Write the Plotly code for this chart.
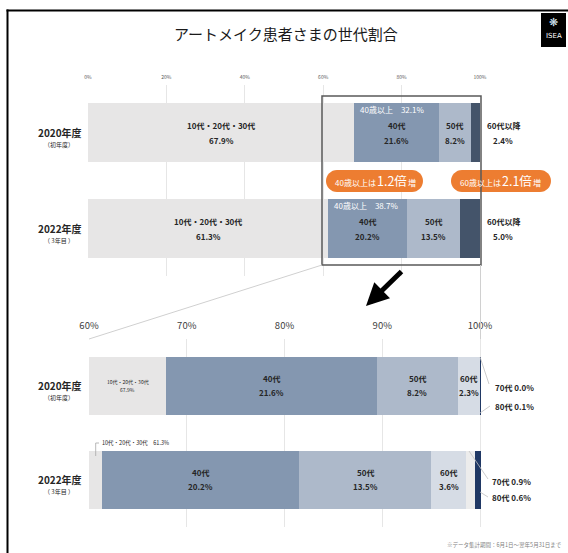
import plotly.graph_objects as go

W, H = 568, 553
FONT = "Noto Sans CJK JP"
TXT = "#262626"

# ---------------- data ----------------
years = ["2020年度", "2022年度"]
year_notes = ["（初年度）", "（ 3年目 ）"]

top_groups = ["10代・20代・30代", "40代", "50代", "60代以降"]
top_2020 = [67.9, 21.6, 8.2, 2.4]
top_2022 = [61.3, 20.2, 13.5, 5.0]
top_colors = ["#e7e6e6", "#8497b0", "#adb9ca", "#44546a"]
over40 = [32.1, 38.7]
top_ticks = [0, 20, 40, 60, 80, 100]

bot_groups = ["10代・20代・30代", "40代", "50代", "60代", "70代", "80代"]
bot_2020 = [67.9, 21.6, 8.2, 2.3, 0.0, 0.1]
bot_2022 = [61.3, 20.2, 13.5, 3.6, 0.9, 0.6]
bot_colors = ["#e7e6e6", "#8497b0", "#adb9ca", "#d6dce5", "#ececec", "#203864"]
bot_ticks = [60, 70, 80, 90, 100]

badge_small = ["40歳以上は", "60歳以上は"]
badge_big = ["1.2倍", "2.1倍"]
badge_tail = ["増", "増"]

title = "アートメイク患者さまの世代割合"
footer = "※データ集計期間：6月1日〜翌年5月31日まで"


def px(x):
    return x / W


def py(y):
    return 1 - y / H


fig = go.Figure()

for i, g in enumerate(top_groups):
    fig.add_trace(go.Bar(
        y=[0, 1], x=[top_2020[i], top_2022[i]], orientation="h",
        marker=dict(color=top_colors[i], line=dict(width=0)), width=0.62,
        name=g, xaxis="x", yaxis="y", hoverinfo="skip", showlegend=False))

for i, g in enumerate(bot_groups):
    fig.add_trace(go.Bar(
        y=[0, 1], x=[bot_2020[i], bot_2022[i]], orientation="h",
        marker=dict(color=bot_colors[i], line=dict(width=0)), width=0.62,
        name=g, xaxis="x2", yaxis="y2", hoverinfo="skip", showlegend=False))

ann = []
shapes = []
B = "bold"


def A(**kw):
    d = dict(showarrow=False, xanchor="center", yanchor="middle")
    d.update(kw)
    ann.append(d)


def cum(vals):
    out, s = [], 0
    for v in vals:
        out.append((s, s + v))
        s += v
    return out


# ---- top chart labels ----
top_rows = [top_2020, top_2022]
for r, vals in enumerate(top_rows):
    segs = cum(vals)
    for i in range(3):
        a, b = segs[i]
        c = (a + b) / 2
        A(x=c, y=r, xref="x", yref="y", text=top_groups[i], yshift=7, font=dict(size=8, color=TXT, weight=B))
        A(x=c, y=r, xref="x", yref="y", text=f"{vals[i]:.1f}%", yshift=-8, font=dict(size=8, color=TXT, weight=B))
    A(x=px(503), y=r, xref="paper", yref="y", text=top_groups[3], yshift=7, font=dict(size=8, color=TXT, weight=B))
    A(x=px(503), y=r, xref="paper", yref="y", text=f"{vals[3]:.1f}%", yshift=-8, font=dict(size=8, color=TXT, weight=B))
    A(x=segs[1][0], y=r, xref="x", yref="y", text=f"40歳以上　{over40[r]:.1f}%",
      xanchor="left", xshift=4, yshift=23, font=dict(size=8, color="white"))

# year labels (both charts)
for yref in ["y", "y2"]:
    for r in range(2):
        A(x=px(60), y=r, xref="paper", yref=yref, text=years[r], yshift=0, font=dict(size=10, color=TXT, weight=B))
        A(x=px(59), y=r, xref="paper", yref=yref, text=year_notes[r], yshift=-12, font=dict(size=6, color=TXT))

# ---- bottom chart labels ----
bot_rows = [bot_2020, bot_2022]
for r, vals in enumerate(bot_rows):
    segs = cum(vals)
    for i in range(1, 4):
        a, b = segs[i]
        c = (a + b) / 2
        A(x=c, y=r, xref="x2", yref="y2", text=bot_groups[i], yshift=7, font=dict(size=8, color=TXT, weight=B))
        A(x=c, y=r, xref="x2", yref="y2", text=f"{vals[i]:.1f}%", yshift=-7, font=dict(size=8, color=TXT, weight=B))

segs = cum(bot_2020)
c0 = (60 + segs[0][1]) / 2
A(x=c0, y=0, xref="x2", yref="y2", text=bot_groups[0], yshift=4, font=dict(size=5, color=TXT))
A(x=c0, y=0, xref="x2", yref="y2", text=f"{bot_2020[0]:.1f}%", yshift=-4, font=dict(size=5, color=TXT))
A(x=px(100), y=py(443), xref="paper", yref="paper", text=f"{bot_groups[0]}　{bot_2022[0]:.1f}%",
  xanchor="left", font=dict(size=5.5, color=TXT))
shapes.append(dict(type="path", xref="paper", yref="paper",
                   path=f"M{px(95.7)},{py(456)} L{px(95.7)},{py(443)} L{px(99)},{py(443)}",
                   line=dict(color="#a6a6a6", width=0.8)))

out_lbl = [
    [(493, 387, f"{bot_groups[4]} {bot_2020[4]:.1f}%"), (493, 406, f"{bot_groups[5]} {bot_2020[5]:.1f}%")],
    [(490, 481, f"{bot_groups[4]} {bot_2022[4]:.1f}%"), (490, 497, f"{bot_groups[5]} {bot_2022[5]:.1f}%")],
]
for row in out_lbl:
    for (x, y, t) in row:
        A(x=px(x), y=py(y), xref="paper", yref="paper", text=t, xanchor="left",
          font=dict(size=8, color=TXT, weight=B))
leaders = [((480, 357), (489, 384)), ((480, 413), (490, 406)),
           ((469, 451), (488, 479)), ((480, 492), (488, 497))]
for (a, b) in leaders:
    shapes.append(dict(type="line", xref="paper", yref="paper", x0=px(a[0]), y0=py(a[1]),
                       x1=px(b[0]), y1=py(b[1]), line=dict(color="#bfbfbf", width=0.8)))


# ---- badges ----
def pill(x0, x1, y0, y1):
    r = (y1 - y0) / 2
    k = 0.5523 * r
    cy = (y0 + y1) / 2
    p = lambda x, y: f"{px(x):.5f},{py(y):.5f}"
    d = f"M{p(x0 + r, y0)} L{p(x1 - r, y0)} "
    d += f"C{p(x1 - r + k, y0)} {p(x1, cy - k)} {p(x1, cy)} "
    d += f"C{p(x1, cy + k)} {p(x1 - r + k, y1)} {p(x1 - r, y1)} "
    d += f"L{p(x0 + r, y1)} "
    d += f"C{p(x0 + r - k, y1)} {p(x0, cy + k)} {p(x0, cy)} "
    d += f"C{p(x0, cy - k)} {p(x0 + r - k, y0)} {p(x0 + r, y0)} Z"
    return d


pills = [(326, 423), (451, 551)]
big_centers = [392, 517]
for j, (x0, x1) in enumerate(pills):
    shapes.append(dict(type="path", xref="paper", yref="paper", path=pill(x0, x1, 170, 192),
                       fillcolor="#ed7d31", line=dict(width=0)))
    bc = big_centers[j]
    A(x=px(bc), y=py(181), xref="paper", yref="paper", text=badge_big[j],
      font=dict(size=12.5, color="white"))
    A(x=px(bc - 14), y=py(182), xref="paper", yref="paper", text=badge_small[j], xanchor="right",
      font=dict(size=8, color="white"))
    A(x=px(bc + 14), y=py(182), xref="paper", yref="paper", text=badge_tail[j], xanchor="left",
      font=dict(size=8, color="white"))

# ---- zoom frame, connectors, arrow ----
shapes.append(dict(type="rect", xref="paper", yref="paper", x0=px(322), x1=px(481), y0=py(96), y1=py(265),
                   line=dict(color="#595959", width=1.5)))
shapes.append(dict(type="line", xref="paper", yref="paper", x0=px(322), y0=py(265), x1=px(89), y1=py(339),
                   line=dict(color="#d0d0d0", width=1)))
shapes.append(dict(type="line", xref="paper", yref="paper", x0=px(480.5), y0=py(265), x1=px(480.5), y1=py(339),
                   line=dict(color="#d0d0d0", width=1)))
ann.append(dict(x=px(366), y=py(306), xref="paper", yref="paper", ax=37, ay=-36, axref="pixel", ayref="pixel",
                text="", showarrow=True, arrowhead=2, arrowsize=0.9, arrowwidth=5, arrowcolor="black"))

# ---- outer frame & logo ----
shapes.append(dict(type="line", xref="paper", yref="paper", x0=px(7.5), x1=px(7.5), y0=py(9.5), y1=0,
                   line=dict(color="black", width=2)))
shapes.append(dict(type="line", xref="paper", yref="paper", x0=px(6.5), x1=1, y0=py(10.5), y1=py(10.5),
                   line=dict(color="black", width=2)))
shapes.append(dict(type="rect", xref="paper", yref="paper", x0=px(541), x1=px(566), y0=py(13), y1=py(47),
                   fillcolor="black", line=dict(width=0)))
A(x=px(553.5), y=py(22), xref="paper", yref="paper", text="❋",
  font=dict(size=11, color="#d6e6f5", family="DejaVu Sans"))
A(x=px(553.5), y=py(36), xref="paper", yref="paper", text="ISEA",
  font=dict(size=7, color="white", family="DejaVu Sans"))

A(x=px(286), y=py(34), xref="paper", yref="paper", text=title, font=dict(size=15, color="#1a1a1a"))
A(x=px(564), y=py(545), xref="paper", yref="paper", text=footer, xanchor="right",
  font=dict(size=5.5, color="#7f7f7f"))

fig.update_layout(
    width=W, height=H, margin=dict(l=0, r=0, t=0, b=0, pad=0, autoexpand=False),
    paper_bgcolor="white", plot_bgcolor="white",
    font=dict(family=FONT, color=TXT),
    barmode="stack", bargap=0,
    showlegend=False,
    xaxis=dict(domain=[px(88), px(480)], range=[0, 100], side="top", anchor="y",
               tickvals=top_ticks, ticktext=[f"{v}%" for v in top_ticks],
               tickfont=dict(size=5, color="#595959"), ticks="outside", ticklen=3,
               tickcolor="rgba(0,0,0,0)", showgrid=True, gridcolor="#e6e6e6", gridwidth=1,
               zeroline=False, showline=False, fixedrange=True, automargin=False),
    yaxis=dict(domain=[py(276), py(84.75)], range=[1.5, -0.5], anchor="x",
               showticklabels=False, showgrid=False, zeroline=False, fixedrange=True, automargin=False),
    xaxis2=dict(domain=[px(89), px(480 + 0.15 * 9.775)], range=[60, 100.15], side="top", anchor="y2",
                tickvals=bot_ticks, ticktext=[f"{v}%" for v in bot_ticks],
                tickfont=dict(size=9.5, color="#404040"), ticks="outside", ticklen=5,
                tickcolor="rgba(0,0,0,0)", showgrid=True, gridcolor="#e6e6e6", gridwidth=1,
                zeroline=False, showline=False, fixedrange=True, automargin=False),
    yaxis2=dict(domain=[py(526.5), py(338.5)], range=[1.5, -0.5], anchor="x2",
                showticklabels=False, showgrid=False, zeroline=False, fixedrange=True, automargin=False),
    annotations=ann, shapes=shapes,
)

fig.write_html("out.html", config=dict(displayModeBar=False, responsive=False),
               post_script="document.body.style.margin='0';document.body.style.overflow='hidden';")
